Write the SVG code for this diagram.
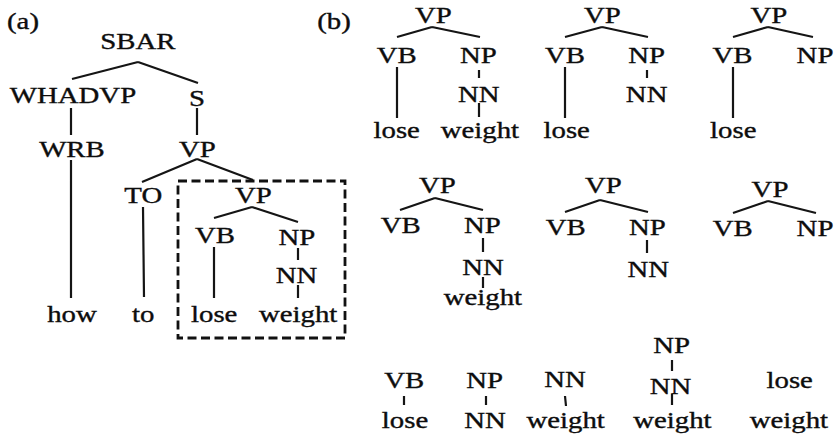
<svg xmlns="http://www.w3.org/2000/svg" width="836" height="435" viewBox="0 0 836 435">
<style>
text{font-family:"Liberation Serif","Times New Roman",serif;font-size:22.5px;fill:#0d0d0d;stroke:#0d0d0d;stroke-width:0.35;text-anchor:middle;transform-box:fill-box;transform-origin:center;transform:scaleX(1.28)}
.e{fill:none;stroke:#151515;stroke-width:2.2;stroke-linecap:butt}
.box{fill:none;stroke:#111;stroke-width:2.8;stroke-dasharray:9 4.5}
</style>
<rect width="836" height="435" fill="#fff"/>
<text x="23" y="29">(a)</text>
<text x="334" y="29">(b)</text>
<g id="connectors" class="e">
<path d="M138,62 L72,79 M138,62 L198,83 M71,108 V135 M197,108 V135 M71,160 V298 M197,159 L142,182 M197,159 L253,180 M143,207 L144,297 M252,207 L214,218 M252,207 L298,222 M214,247 V298 M298,248 V260 M298,285 V298"/>
<path d="M432,27 L397,37 M432,27 L480,37 M397,67 V118 M479,70 V78 M479,103 V117"/>
<path d="M602,27 L565,37 M602,27 L648,37 M565,67 V118 M647,70 V78"/>
<path d="M768,27 L733,37 M768,27 L813,37 M733,67 V118"/>
<path d="M435,198 L400,210 M435,198 L483,210 M483,238 V252 M483,277 V288"/>
<path d="M600,200 L565,212 M600,200 L648,212 M647,240 V253"/>
<path d="M768,201 L733,213 M768,201 L816,213"/>
<path d="M404,396 V405 M486,396 V405 M565,396 L566,406 M672,360 V371 M672,394 V405"/>
</g>
<rect id="dashed-box" class="box" x="178" y="181" width="167" height="157"/>
<g id="a-SBAR"><text x="138" y="49">SBAR</text></g>
<g id="a-WHADVP"><text x="73" y="103">WHADVP</text></g>
<g id="a-S"><text x="197" y="106">S</text></g>
<g id="a-WRB"><text x="72" y="157">WRB</text></g>
<g id="a-VP1"><text x="197.5" y="157">VP</text></g>
<g id="a-TO"><text x="143.3" y="203">TO</text></g>
<g id="a-VP2"><text x="253.3" y="203">VP</text></g>
<g id="a-VB"><text x="215" y="243">VB</text></g>
<g id="a-NP"><text x="297" y="245">NP</text></g>
<g id="a-NN"><text x="296.5" y="283">NN</text></g>
<g id="a-how"><text x="72" y="322">how</text></g>
<g id="a-to"><text x="143.3" y="322">to</text></g>
<g id="a-lose"><text x="214.2" y="322">lose</text></g>
<g id="a-weight"><text x="298.3" y="322">weight</text></g>
<g id="b1-VP"><text x="433.3" y="23.3">VP</text></g>
<g id="b1-VB"><text x="396.7" y="62.7">VB</text></g>
<g id="b1-NP"><text x="478.3" y="62.7">NP</text></g>
<g id="b1-NN"><text x="478.8" y="101.7">NN</text></g>
<g id="b1-lose"><text x="396.7" y="138.3">lose</text></g>
<g id="b1-weight"><text x="480" y="138.3">weight</text></g>
<g id="b2-VP"><text x="602.5" y="23.3">VP</text></g>
<g id="b2-VB"><text x="565" y="62.7">VB</text></g>
<g id="b2-NP"><text x="646.7" y="62.7">NP</text></g>
<g id="b2-NN"><text x="646.7" y="101.7">NN</text></g>
<g id="b2-lose"><text x="566.7" y="138.3">lose</text></g>
<g id="b3-VP"><text x="769" y="23.3">VP</text></g>
<g id="b3-VB"><text x="732.5" y="62.7">VB</text></g>
<g id="b3-NP"><text x="815" y="62.7">NP</text></g>
<g id="b3-lose"><text x="733.3" y="138.3">lose</text></g>
<g id="b4-VP"><text x="437.5" y="193.3">VP</text></g>
<g id="b4-VB"><text x="400.8" y="233.3">VB</text></g>
<g id="b4-NP"><text x="482.5" y="233.3">NP</text></g>
<g id="b4-NN"><text x="483" y="275">NN</text></g>
<g id="b4-weight"><text x="483" y="305">weight</text></g>
<g id="b5-VP"><text x="603.3" y="193.3">VP</text></g>
<g id="b5-VB"><text x="565.8" y="235">VB</text></g>
<g id="b5-NP"><text x="647.5" y="235">NP</text></g>
<g id="b5-NN"><text x="648.3" y="276.7">NN</text></g>
<g id="b6-VP"><text x="770" y="196.7">VP</text></g>
<g id="b6-VB"><text x="732.8" y="236">VB</text></g>
<g id="b6-NP"><text x="815" y="236">NP</text></g>
<g id="b7-VB"><text x="404.2" y="388.3">VB</text></g>
<g id="b7-lose"><text x="405" y="428.3">lose</text></g>
<g id="b8-NP"><text x="484.7" y="388.3">NP</text></g>
<g id="b8-NN"><text x="485" y="428.3">NN</text></g>
<g id="b9-NN"><text x="565" y="386.7">NN</text></g>
<g id="b9-weight"><text x="565.8" y="428.3">weight</text></g>
<g id="b10-NP"><text x="671.7" y="353.3">NP</text></g>
<g id="b10-NN"><text x="670.5" y="394">NN</text></g>
<g id="b10-weight"><text x="672.5" y="428.3">weight</text></g>
<g id="b11-lose"><text x="789.7" y="388.3">lose</text></g>
<g id="b11-weight"><text x="789" y="428.3">weight</text></g>
</svg>
